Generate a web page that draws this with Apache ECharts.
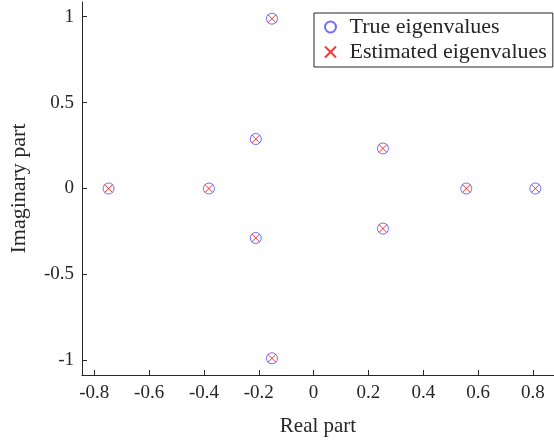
<!DOCTYPE html>
<html>
<head>
<meta charset="utf-8">
<script src="https://cdn.jsdelivr.net/npm/echarts@6/dist/echarts.min.js"></script>
<style>
  html, body { margin: 0; padding: 0; background: #ffffff; }
  #chart { width: 554px; height: 442px; }
</style>
</head>
<body>
<div id="chart"></div>
<script>
// Eigenvalues in the complex plane (real / imaginary parts)
const trueReal = [-0.748, -0.382, -0.211, -0.211, -0.152, -0.152, 0.253, 0.253, 0.557, 0.809];
const trueImag = [0, 0, 0.288, -0.288, 0.988, -0.988, 0.233, -0.233, 0, 0];
const estReal  = [-0.748, -0.382, -0.211, -0.211, -0.152, -0.152, 0.253, 0.253, 0.557, 0.809];
const estImag  = [0, 0, 0.288, -0.288, 0.988, -0.988, 0.233, -0.233, 0, 0];

const xTicks = [-0.8, -0.6, -0.4, -0.2, 0, 0.2, 0.4, 0.6, 0.8];
const yTicks = [-1, -0.5, 0, 0.5, 1];

const seriesNames = ['True eigenvalues', 'Estimated eigenvalues'];

const toPairs = (xs, ys) => xs.map((x, i) => [x, ys[i]]);

const axisColor = '#262626';
const fontFamily = '"Liberation Serif", "DejaVu Serif", serif';

const chart = echarts.init(document.getElementById('chart'), null, { renderer: 'canvas' });

chart.setOption({
  animation: false,
  backgroundColor: '#ffffff',
  grid: { left: 74, right: 0, top: 2, bottom: 58, containLabel: false },
  xAxis: {
    type: 'value',
    min: -0.845,
    max: 0.877,
    name: 'Real part',
    nameLocation: 'middle',
    nameGap: 41,
    nameTextStyle: { color: axisColor, fontFamily, fontSize: 21 },
    axisLine: { show: true, onZero: false, lineStyle: { color: axisColor, width: 1 } },
    axisTick: { show: true, inside: true, length: 5, customValues: xTicks, lineStyle: { color: axisColor } },
    axisLabel: {
      customValues: xTicks,
      color: axisColor, fontFamily, fontSize: 19, margin: 9,
      formatter: v => String(v)
    },
    splitLine: { show: false }
  },
  yAxis: {
    type: 'value',
    min: -1.085,
    max: 1.085,
    name: 'Imaginary part',
    nameLocation: 'middle',
    nameGap: 52,
    nameRotate: 90,
    nameTextStyle: { color: axisColor, fontFamily, fontSize: 22 },
    axisLine: { show: true, onZero: false, lineStyle: { color: axisColor, width: 1 } },
    axisTick: { show: true, inside: true, length: 5, customValues: yTicks, lineStyle: { color: axisColor } },
    axisLabel: {
      customValues: yTicks,
      color: axisColor, fontFamily, fontSize: 19, margin: 8,
      formatter: v => String(v)
    },
    splitLine: { show: false }
  },
  legend: {
    orient: 'vertical',
    left: 314,
    top: 13,
    padding: [3, 6, 4, 10],
    itemGap: 3,
    itemWidth: 28,
    itemHeight: 11,
    borderColor: axisColor,
    borderWidth: 1,
    backgroundColor: '#ffffff',
    selectedMode: false,
    textStyle: { color: axisColor, fontFamily, fontSize: 22 },
    data: seriesNames
  },
  series: [
    {
      name: seriesNames[0],
      type: 'scatter',
      symbol: 'circle',
      symbolSize: 11,
      itemStyle: { color: 'rgba(0,0,0,0)', borderColor: '#4a4aff', borderWidth: 1 },
      emphasis: { disabled: true },
      z: 2,
      data: toPairs(trueReal, trueImag)
    },
    {
      name: seriesNames[1],
      type: 'scatter',
      symbol: 'path://M0,0L10,10M10,0L0,10',
      symbolSize: 8,
      itemStyle: { color: 'rgba(0,0,0,0)', borderColor: '#ff0000', borderWidth: 1 },
      emphasis: { disabled: true },
      z: 3,
      data: toPairs(estReal, estImag)
    }
  ]
});
</script>
</body>
</html>
